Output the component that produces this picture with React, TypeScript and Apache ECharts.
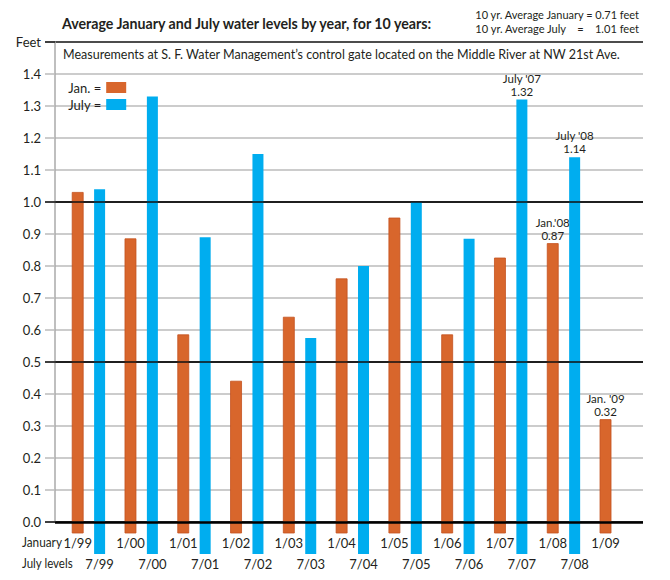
import React, { useEffect, useRef } from 'react'
import * as echarts from 'echarts'

// data
const janLabels = ['1/99', '1/00', '1/01', '1/02', '1/03', '1/04', '1/05', '1/06', '1/07', '1/08', '1/09']
const janValues = [1.03, 0.885, 0.585, 0.44, 0.64, 0.76, 0.95, 0.585, 0.825, 0.87, 0.32]
const janNotes = ['', '', '', '', '', '', '', '', '', "Jan.'08", "Jan. '09"]

const julyLabels = ['7/99', '7/00', '7/01', '7/02', '7/03', '7/04', '7/05', '7/06', '7/07', '7/08']
const julyValues = [1.04, 1.33, 0.89, 1.15, 0.575, 0.8, 1.0, 0.885, 1.32, 1.14]
const julyNotes = ['', '', '', '', '', '', '', '', "July '07", "July '08"]

const averageLines = ['10 yr. Average January = 0.71 feet', '10 yr. Average July    =    1.01 feet']

const TITLE = 'Average January and July water levels by year, for 10 years:'
const SUBTITLE = 'Measurements at S. F. Water Management\u2019s control gate located on the Middle River at NW 21st Ave.'

const JAN_COLOR = '#d8662c'
const JULY_COLOR = '#00adef'
const TEXT = '#231f20'
const FONT = "Lato, 'Liberation Sans', sans-serif"

const BAR_W = 11
const JULY_SHIFT = 0.415 // july bar sits right of its january bar

// horizontal squeeze so a text spans the width it has in the picture
const fitScale = (text: string, font: string, width: number) => {
    const ctx = document.createElement('canvas').getContext('2d')
    if (!ctx) return 1
    ctx.font = font
    const w = ctx.measureText(text).width
    return w > 0 ? width / w : 1
}

const makeRender = (color: string, stroke: string, drop: number, labels: string[], notes: string[]) =>
    (params: any, api: any) => {
        const x = api.value(0)
        const v = api.value(1)
        const top = api.coord([x, v])
        const base = api.coord([x, 0])
        const bottom = base[1] + drop
        const children: any[] = [
            {
                type: 'rect',
                shape: { x: top[0] - BAR_W / 2, y: top[1], width: BAR_W, height: bottom - top[1] },
                style: { fill: color, stroke: stroke, lineWidth: stroke === 'none' ? 0 : 0.8 },
            },
            {
                type: 'text',
                x: top[0],
                y: bottom + 10,
                style: {
                    text: labels[params.dataIndex],
                    fill: TEXT,
                    font: `13px ${FONT}`,
                    align: 'center',
                    verticalAlign: 'middle',
                },
            },
        ]
        const note = notes[params.dataIndex]
        if (note) {
            children.push(
                {
                    type: 'text',
                    x: top[0],
                    y: top[1] - 21.5,
                    style: { text: note, fill: TEXT, font: `11.5px ${FONT}`, align: 'center', verticalAlign: 'middle' },
                },
                {
                    type: 'text',
                    x: top[0],
                    y: top[1] - 8.5,
                    style: { text: v.toFixed(2), fill: TEXT, font: `11.5px ${FONT}`, align: 'center', verticalAlign: 'middle' },
                }
            )
        }
        return { type: 'group', children }
    }

const App: React.FC = () => {
    const chartRef = useRef<HTMLDivElement | null>(null)

    useEffect(() => {
        if (!chartRef.current) return
        const chart = echarts.init(chartRef.current, undefined, { renderer: 'svg' })

        const titleFont = `bold 15px ${FONT}`
        const subFont = `14px ${FONT}`
        const avgFont = `12px ${FONT}`
        const rowFont = `13px ${FONT}`

        const option: any = {
            animation: false,
            backgroundColor: '#fff',
            textStyle: { fontFamily: FONT },
            grid: { left: 55, right: 27, top: 42, bottom: 58 },
            legend: {
                data: ['Jan.', 'July'],
                orient: 'vertical',
                left: 63,
                top: 76,
                align: 'right',
                icon: 'rect',
                itemWidth: 20,
                itemHeight: 11,
                itemGap: 4,
                formatter: '{name} =',
                textStyle: { color: TEXT, fontSize: 13, fontFamily: FONT },
            },
            xAxis: { type: 'value', min: -0.43, max: 10.71, show: false },
            yAxis: [
                {
                    type: 'value',
                    min: 0,
                    max: 1.5,
                    interval: 0.1,
                    axisLine: { show: true, onZero: false, lineStyle: { color: '#aaa', width: 1.5 } },
                    axisTick: { show: true, length: 10, lineStyle: { color: '#bbb', width: 1.5 } },
                    axisLabel: {
                        margin: 14,
                        color: TEXT,
                        fontSize: 13,
                        fontFamily: FONT,
                        formatter: (v: number) => (Math.abs(v - 1.5) < 1e-6 ? 'Feet' : v.toFixed(1)),
                    },
                    splitLine: {
                        lineStyle: { color: ['#111', '#bbb', '#bbb', '#bbb', '#bbb'], width: 1.5 },
                    },
                },
                {
                    type: 'value',
                    min: 0,
                    max: 1.5,
                    interval: 0.5,
                    position: 'left',
                    axisLine: { show: false, onZero: false },
                    axisTick: { show: true, length: 10, lineStyle: { color: '#111', width: 1.5 } },
                    axisLabel: { show: false },
                    splitLine: { show: false },
                },
            ],
            series: [
                {
                    name: 'Jan.',
                    type: 'custom',
                    itemStyle: { color: JAN_COLOR },
                    renderItem: makeRender(JAN_COLOR, '#c4521e', 11, janLabels, janNotes),
                    data: janValues.map((v, i) => [i, v]),
                    z: 2,
                    markLine: {
                        silent: true,
                        symbol: 'none',
                        z: 5,
                        label: { show: false },
                        lineStyle: { color: '#111', type: 'solid', width: 1.6 },
                        data: [{ yAxis: 0.5 }, { yAxis: 1.0 }, { yAxis: 0, lineStyle: { width: 2.6, color: '#000' } }],
                    },
                },
                {
                    name: 'July',
                    type: 'custom',
                    itemStyle: { color: JULY_COLOR },
                    renderItem: makeRender(JULY_COLOR, 'none', 32, julyLabels, julyNotes),
                    data: julyValues.map((v, i) => [i + JULY_SHIFT, v]),
                    z: 2,
                },
            ],
            graphic: [
                {
                    type: 'text',
                    x: 62,
                    y: 23,
                    scaleX: fitScale(TITLE, titleFont, 373),
                    style: { text: TITLE, font: titleFont, fill: TEXT, verticalAlign: 'middle' },
                },
                ...averageLines.map((line, i) => ({
                    type: 'text',
                    x: 639,
                    y: 14.5 + i * 14,
                    scaleX: fitScale(line, avgFont, 165),
                    style: { text: line, font: avgFont, fill: TEXT, align: 'right', verticalAlign: 'middle' },
                })),
                {
                    type: 'text',
                    x: 63,
                    y: 54,
                    scaleX: fitScale(SUBTITLE, subFont, 559),
                    style: { text: SUBTITLE, font: subFont, fill: TEXT, verticalAlign: 'middle' },
                },
                {
                    type: 'text',
                    x: 22,
                    y: 542,
                    scaleX: fitScale('January', rowFont, 40),
                    style: { text: 'January', font: rowFont, fill: TEXT, verticalAlign: 'middle' },
                },
                {
                    type: 'text',
                    x: 22,
                    y: 563,
                    scaleX: fitScale('July levels', rowFont, 51),
                    style: { text: 'July levels', font: rowFont, fill: TEXT, verticalAlign: 'middle' },
                },
            ],
        }

        chart.setOption(option)

        return () => {
            chart.dispose()
        }
    }, [])

    return (
        <div
            ref={chartRef}
            style={{ position: 'fixed', left: 0, top: 0, width: 670, height: 580, background: '#fff' }}
        />
    )
}

export default App
